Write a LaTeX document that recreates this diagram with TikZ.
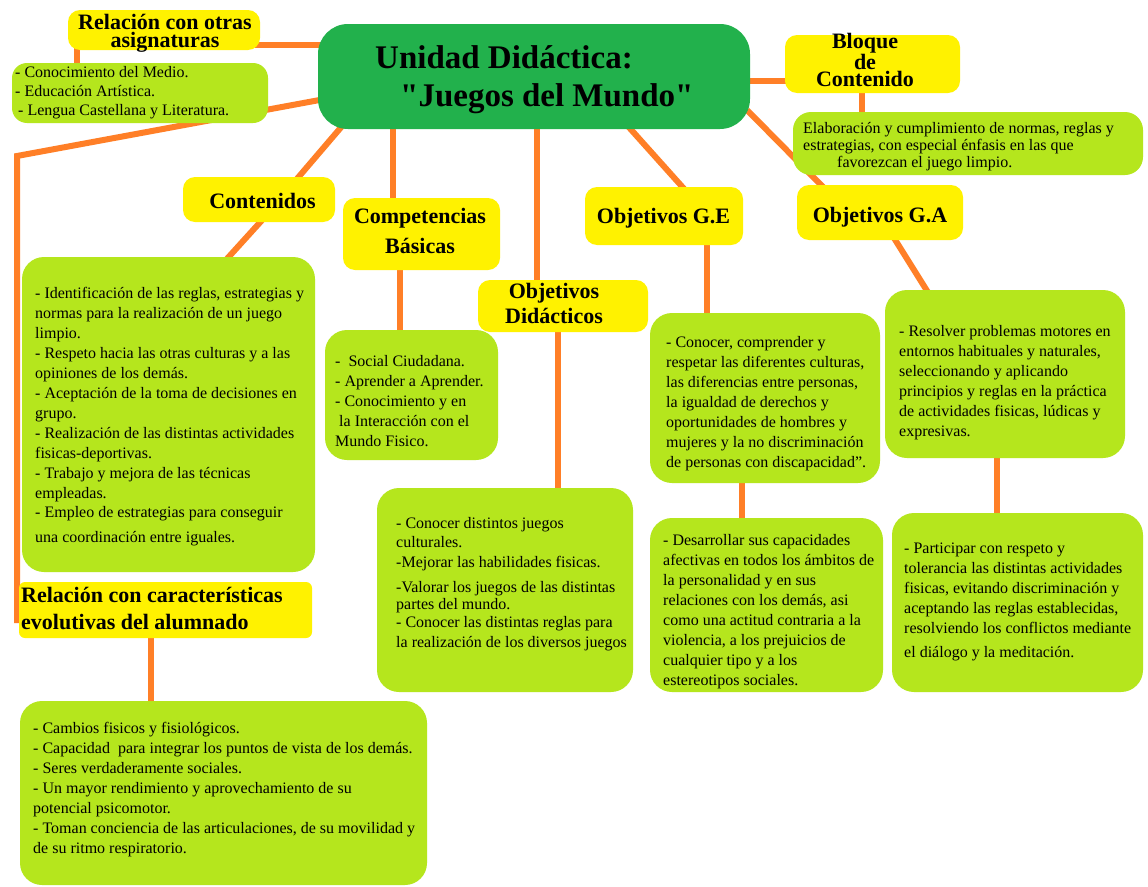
\documentclass[tikz,border=0pt]{standalone}
\usepackage{fontspec}
\setmainfont{Liberation Serif}
\newfontfamily\qfont{Liberation Serif}
\usetikzlibrary{calc,backgrounds}
\definecolor{cOr}{HTML}{FF7F27}
\definecolor{cYe}{HTML}{FFF200}
\definecolor{cLi}{HTML}{B5E61D}
\definecolor{cGr}{HTML}{22B14C}
\begin{document}
\begin{tikzpicture}[x=1pt,y=-1pt,
 sz/.style 2 args={minimum width=#1pt, minimum height=#2pt},
 ybox/.style={fill=cYe, rounded corners=12pt, inner sep=0pt, draw=none},
 gbox/.style={fill=cLi, rounded corners=22pt, inner sep=0pt, draw=none},
 conn/.style={draw=cOr, line width=6pt},
 body/.style={anchor=base west, align=left, inner sep=0pt, font=\fontsize{16}{20}\selectfont},
 ttl/.style={anchor=base, align=center, inner sep=0pt, font=\bfseries\fontsize{22}{26}\selectfont},
 ttll/.style={anchor=base west, align=left, inner sep=0pt, font=\bfseries\fontsize{22}{27}\selectfont},
]
% note: for multi-line nodes the base anchor is the baseline of the LAST line
\useasboundingbox (0,0) rectangle (1148,886);

% ---------- main ----------
\node[fill=cGr, rounded corners=30pt, sz={432}{105}, inner sep=0pt] (main) at (534,76.5) {};
\node[anchor=base west, align=left, inner sep=0pt, font=\qfont\bfseries\fontsize{33}{38}\selectfont] (mainT) at (375,106) {Unidad Didáctica:\\\hspace*{25pt}"Juegos del Mundo"};

% ---------- yellow labels ----------
\node[ybox, sz={192}{40}] (asigY) at (164,30) {};
\node[ttl, font=\bfseries\fontsize{22}{18}\selectfont] (asigT) at (165,47) {Relación con otras\\asignaturas};

\node[ybox, sz={175}{58}] (bloqY) at (872.5,64) {};
\node[ttl, font=\bfseries\fontsize{22}{17}\selectfont] (bloqT) at (865,86) {Bloque\\de\\Contenido};

\node[ybox, sz={152}{45}] (contY) at (259,199.5) {};
\node[ttl] (contT) at (262.5,208) {Contenidos};

\node[ybox, sz={157}{72}] (compY) at (421.5,234) {};
\node[ttl, font=\bfseries\fontsize{22}{30}\selectfont] (compT) at (420,253) {Competencias\\Básicas};

\node[ybox, sz={170}{52}] (odY) at (563,306) {};
\node[ttl, font=\bfseries\fontsize{22}{25}\selectfont] (odT) at (554,323) {Objetivos\\Didácticos};

\node[ybox, sz={158}{58}] (geY) at (664,216) {};
\node[ttl] (geT) at (663.5,223) {Objetivos G.E};

\node[ybox, sz={166}{55}] (gaY) at (880,212.5) {};
\node[ttl] (gaT) at (880,222) {Objetivos G.A};

\node[ybox, rounded corners=6pt, sz={293}{56}] (relc) at (165.5,610) {};
\node[ttll] (relcT) at (21,629) {Relación con características\\evolutivas del alumnado};

% ---------- green boxes ----------
\node[gbox, rounded corners=15pt, sz={256}{60}] (asigG) at (140,93) {};
\node[body, font=\fontsize{16}{19}\selectfont] (asigTx) at (15,115) {- Conocimiento del Medio.\\- Educación Artística.\\\hspace*{3pt}- Lengua Castellana y Literatura.};

\node[gbox, rounded corners=18pt, sz={350}{63}] (bloqG) at (968,143.5) {};
\node[body, font=\fontsize{16}{17}\selectfont] (bloqTx) at (803,167) {Elaboración y cumplimiento de normas, reglas y\\estrategias, con especial énfasis en las que\\\hspace*{34pt}favorezcan el juego limpio.};

\node[gbox, sz={293}{315}] (contG) at (168.5,414.5) {};
\node[body] (contTx) at (35,542) {- Identificación de las reglas, estrategias y\\normas para la realización de un juego\\limpio.\\- Respeto hacia las otras culturas y a las\\opiniones de los demás.\\- Aceptación de la toma de decisiones en\\grupo.\\- Realización de las distintas actividades\\fisicas-deportivas.\\- Trabajo y mejora de las técnicas\\empleadas.\\[-1pt]- Empleo de estrategias para conseguir\\[5pt]una coordinación entre iguales.};

\node[gbox, sz={173}{130}] (compG) at (411.5,395) {};
\node[body] (compTx) at (335,446) {-\ \ Social Ciudadana.\\- Aprender a Aprender.\\- Conocimiento y en\\\hspace*{4pt}la Interacción con el\\Mundo Fisico.};

\node[gbox, sz={256}{204}] (conoc) at (505,590) {};
\node[body, font=\fontsize{16}{19}\selectfont] (conocTx) at (396,647) {- Conocer distintos juegos\\culturales.\\[1pt]-Mejorar las habilidades fisicas.\\[6pt]-Valorar los juegos de las distintas\\[-2pt]partes del mundo.\\[-1pt]- Conocer las distintas reglas para\\[1pt]la realización de los diversos juegos};

\node[gbox, sz={230}{170}] (geG) at (765,398) {};
\node[body] (geTx) at (666,467) {- Conocer, comprender y\\respetar las diferentes culturas,\\las diferencias entre personas,\\la igualdad de derechos y\\oportunidades de hombres y\\mujeres y la no discriminación\\de personas con discapacidad”.};

\node[gbox, sz={233}{174}] (desG) at (766.5,605) {};
\node[body] (desTx) at (663,685) {- Desarrollar sus capacidades\\afectivas en todos los ámbitos de\\la personalidad y en sus\\relaciones con los demás, asi\\como una actitud contraria a la\\violencia, a los prejuicios de\\cualquier tipo y a los\\estereotipos sociales.};

\node[gbox, sz={240}{168}] (gaG) at (1005,374) {};
\node[body] (gaTx) at (899,436) {- Resolver problemas motores en\\entornos habituales y naturales,\\seleccionando y aplicando\\principios y reglas en la práctica\\de actividades fisicas, lúdicas y\\expresivas.};

\node[gbox, sz={251}{179}] (partG) at (1017.5,602.5) {};
\node[body] (partTx) at (904,657) {- Participar con respeto y\\tolerancia las distintas actividades\\fisicas, evitando discriminación y\\aceptando las reglas establecidas,\\resolviendo los conflictos mediante\\[4pt]el diálogo y la meditación.};

\node[gbox, sz={407}{184}] (botG) at (223.5,793) {};
\node[body] (botTx) at (33,853) {- Cambios fisicos y fisiológicos.\\- Capacidad\ \ para integrar los puntos de vista de los demás.\\- Seres verdaderamente sociales.\\- Un mayor rendimiento y aprovechamiento de su\\potencial psicomotor.\\- Toman conciencia de las articulaciones, de su movilidad y\\de su ritmo respiratorio.};

\coordinate (bend) at (17,156);

% ---------- connectors ----------
\begin{pgfonlayer}{background}
\fill[white] (0,0) rectangle (1148,886);
\draw[conn] ($(asigY)+(91,15)$) -- ($(main)+(-209,-31.5)$);
\draw[conn] ($(asigY)+(-87,15)$) -- ($(asigG)+(-63,-25)$);
\draw[conn] ($(main)+(-209,22.5)$) -- (bend) -- ($(relc)+(-148.5,13)$);
\draw[conn] ($(main)+(-191,48.5)$) -- ($(contY)+(37,-19.5)$);
\draw[conn] ($(contY)+(5,18.5)$) -- ($(contG)+(56.5,-153.5)$);
\draw[conn] ($(main)+(-141,48.5)$) -- ($(compY)+(-28.5,-32)$);
\draw[conn] ($(compY)+(-21.5,31)$) -- ($(compG)+(-11.5,-60)$);
\draw[conn] ($(main)+(3,48.5)$) -- ($(odY)+(-26,-21)$);
\draw[conn] ($(odY)+(-5,22)$) -- ($(conoc)+(53,-98)$);
\draw[conn] ($(main)+(92,47.5)$) -- ($(geY)+(22,-25)$);
\draw[conn] ($(geY)+(43,24)$) -- ($(geG)+(-58,-80)$);
\draw[conn] ($(geG)+(-23,80)$) -- ($(desG)+(-24.5,-82)$);
\draw[conn] ($(main)+(213,33.5)$) -- ($(gaY)+(-54,-22.5)$);
\draw[conn] ($(gaY)+(14,25.5)$) -- ($(gaG)+(-76,-80)$);
\draw[conn] ($(gaG)+(-8,79)$) -- ($(partG)+(-20.5,-84.5)$);
\draw[conn] ($(main)+(211,4.5)$) -- ($(bloqY)+(-82.5,17)$);
\draw[conn] ($(bloqY)+(-10.5,24)$) -- ($(bloqG)+(-106,-26.5)$);
\draw[conn] ($(relc)+(-14.5,23)$) -- ($(botG)+(-72.5,-87)$);
\end{pgfonlayer}
\end{tikzpicture}
\end{document}
